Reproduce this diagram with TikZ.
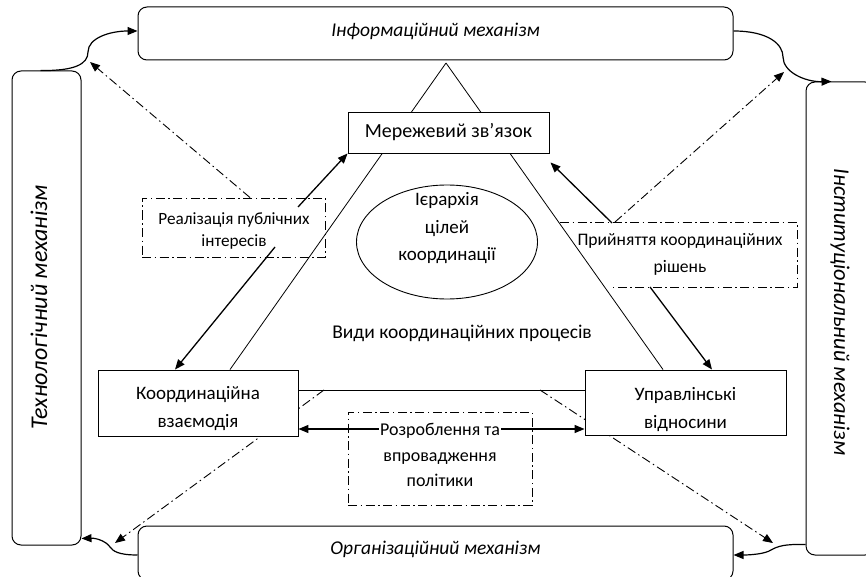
\documentclass[tikz,border=0pt]{standalone}
\usepackage{fontspec}
\setmainfont{Carlito}
\usetikzlibrary{arrows.meta,calc,shapes.geometric,backgrounds}
\begin{document}
\begin{tikzpicture}[x=1pt,y=-1pt,
  every node/.style={font=\fontsize{19}{28}\selectfont, align=center},
  mech/.style={draw, line width=1pt, rounded corners=9pt, inner sep=0pt},
  mtext/.style={font=\itshape\fontsize{19.5}{23}\selectfont},
  pbox/.style={draw, line width=0.9pt, fill=white, inner sep=0pt},
  dd/.style={line width=0.9pt, dash pattern=on 9pt off 3.5pt on 1.5pt off 3.5pt},
  tip/.tip={Triangle[length=10pt,width=8pt]},
  arr/.style={line width=1.3pt, -tip},
  curv/.style={line width=1.2pt, -tip},
  tri/.style={line width=0.8pt}
]
\useasboundingbox (0,0) rectangle (866,577);
\clip (0,0) rectangle (866,577);

% mechanisms
\node[mech, minimum width=595pt, minimum height=53pt] (inf) at (435.5,33.5) {};
\node[mtext] (inft) at (435.5,31) {Інформаційний механізм};
\node[mech, minimum width=595pt, minimum height=54pt] (org) at (435.5,553) {};
\node[mtext] (orgt) at (435.5,549) {Організаційний механізм};
\node[mech, minimum width=69pt, minimum height=474pt] (tech) at (46.5,308) {};
\node[mtext, font=\itshape\fontsize{24}{28}\selectfont, rotate=90] (techt) at (39,307) {Технологічний механізм};
\node[mech, minimum width=68pt, minimum height=473pt] (inst) at (840,318.5) {};
\node[mtext, font=\itshape\fontsize{22.5}{28}\selectfont, rotate=-90] (instt) at (840,312) {Інституціональний механізм};

% central boxes
\node[pbox, minimum width=201pt, minimum height=41pt, font=\fontsize{20}{24}\selectfont] (mer) at (448.5,132.5) {Мережевий зв’язок};
\node[pbox, minimum width=200pt, minimum height=66pt] (koord) at (198,403) {};
\node (koordt) at (198,409) {Координаційна\\взаємодія};
\node[pbox, minimum width=201pt, minimum height=65pt] (upr) at (685.5,402.5) {};
\node (uprt) at (685.5,410) {Управлінські\\відносини};
\node[draw, ellipse, line width=0.9pt, minimum width=181pt, minimum height=114pt] (ell) at (447,242) {};
\node[font=\fontsize{19}{27.5}\selectfont] (ellt) at (447,228.5) {Ієрархія\\цілей\\координації};
\node[font=\fontsize{19.5}{24}\selectfont] (vydy) at (462,333) {Види координаційних процесів};

% triangle
\coordinate (apex) at (446,63);
\begin{pgfonlayer}{background}
\draw[tri] (apex) -- ($(koord.north)+(32,0)$);
\draw[tri] (apex) -- ($(upr.north)+(-22.5,0)$);
\coordinate (bl) at ($(koord.east)+(0,-13)$);
\coordinate (br) at ($(upr.west)+(0,-12.5)$);
\draw[tri] (bl) -- (br);
\coordinate (d3s) at (324,390);
\coordinate (d3e) at (115,543);
\coordinate (d4s) at (540,390);
\coordinate (d4e) at (773,543);
\draw[dd, -tip] (d3s) -- (d3e);
\draw[dd, -tip] (d4s) -- (d4e);
\end{pgfonlayer}

% dash-dot label boxes
\node[draw, dd, minimum width=183pt, minimum height=59pt, inner sep=0pt] (realb) at (233.5,227.5) {};
\node[font=\fontsize{17.2}{22}\selectfont] (realt) at (234,231) {Реалізація публічних\\інтересів};
\draw[dd] (560,222) -- (797,222) -- (797,287) -- (613,287);
\node[font=\fontsize{17.6}{27}\selectfont] (priyt) at (680,254) {Прийняття координаційних\\рішень};
\node[draw, dd, minimum width=184pt, minimum height=93pt, inner sep=0pt] (rozb) at (440,458.5) {};

% double arrow
\draw[line width=1.3pt, tip-tip] ($(koord.east)+(0,26)$) -- ($(upr.west)+(0,26.5)$);
\node[fill=white, inner sep=1pt, font=\fontsize{18}{25.5}\selectfont] (rozt) at (440,455) {Розроблення та\\впровадження\\політики};

% solid arrows
\coordinate (a1) at (298,207);
\coordinate (a2) at (275,247);
\coordinate (a3) at (612,223);
\coordinate (a4) at (650,287);
\draw[arr] (a1) -- (mer.south west);
\draw[arr] (a2) -- ($(koord.north)+(-23,0)$);
\draw[arr] (a3) -- ($(mer.south east)+(1,9)$);
\draw[arr] (a4) -- ($(upr.north)+(26.5,0)$);

% dash-dot arrows to corners
\coordinate (d1s) at ($(realb.north)+(16.5,0)$);
\coordinate (d1e) at (90,62);
\coordinate (d2s) at (615,222);
\coordinate (d2e) at (784,72);
\draw[dd, -tip] (d1s) -- (d1e);
\draw[dd, -tip] (d2s) -- (d2e);

% curved connectors between mechanisms
\draw[curv] ($(tech.north)+(-6,0)$) .. controls (75,71) and (88,64) .. (88,52) .. controls (88,38) and (110,31) .. ($(inf.west)+(0,-2.5)$);
\draw[curv] ($(inf.east)+(0,-2.5)$) .. controls (768,31) and (783,44) .. (783,57) .. controls (783,72) and (805,82) .. ($(inst.north west)+(26,0)$);
\draw[curv] ($(inst.south west)+(0,-11)$) .. controls (785,544) and (778,546) .. (771,550) .. controls (765,554) and (750,555) .. ($(org.east)+(0,2)$);
\draw[curv] ($(org.west)+(0,2)$) .. controls (118,555) and (113,551) .. (110,547) .. controls (106,541) and (96,538) .. ($(tech.south east)+(0,-7)$);
\end{tikzpicture}
\end{document}
